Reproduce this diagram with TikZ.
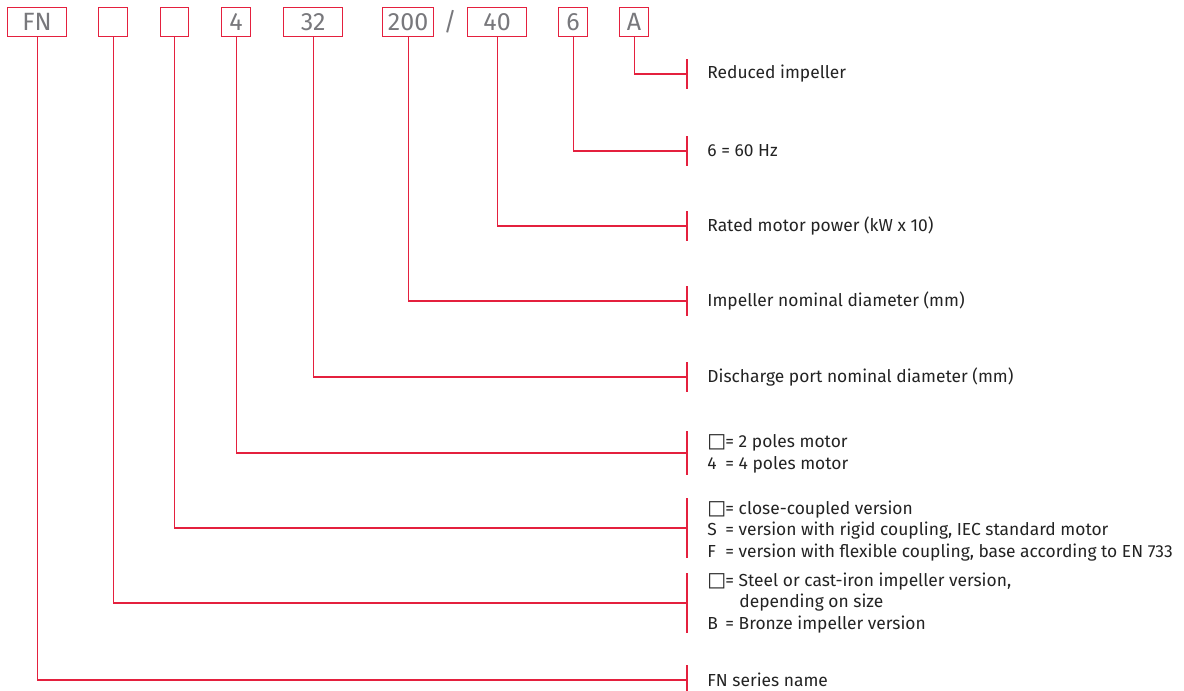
\documentclass[tikz,border=0pt]{standalone}
\usepackage{fontspec}
\setmainfont{Fira Sans}
\newfontfamily\symfont{DejaVu Sans}
\definecolor{codered}{RGB}{228,32,62}
\definecolor{codegray}{RGB}{120,120,124}
\definecolor{labelgray}{RGB}{35,35,35}
\newcommand{\sqbox}{{\symfont\fontsize{10}{10}\selectfont □}\hspace{1.2pt}}
\newcommand{\keyof}[1]{\makebox[9pt][l]{#1}}
\tikzset{
  codebox/.style={draw=codered, line width=0.6pt, minimum height=14.5pt, inner sep=0pt,
    text=codegray, font=\fontsize{12.5}{14}\selectfont, anchor=north west},
  conn/.style={draw=codered, line width=0.55pt},
  tick/.style={draw=codered, line width=0.6pt},
  label/.style={anchor=west, inner sep=0pt, text=labelgray, align=left,
    font=\fontsize{8.7}{10.75}\selectfont}
}
\begin{document}
\begin{tikzpicture}[x=0.5pt,y=-0.5pt]
\useasboundingbox (0,0) rectangle (1184,691);
% code boxes
\node[codebox, minimum width=29.5pt] (fn) at (7,7) {FN};
\node[codebox, minimum width=14.5pt] (b2) at (98,7) {};
\node[codebox, minimum width=14pt] (b3) at (160,7) {};
\node[codebox, minimum width=14.5pt] (b4) at (221,7) {4};
\node[codebox, minimum width=29.5pt] (b32) at (283,7) {32};
\node[codebox, minimum width=25.5pt] (b200) at (382,7) {200};
\node[anchor=center, inner sep=0pt, text=codegray, font=\fontsize{12.5}{14}\selectfont] (slash) at (450,22) {/};
\node[codebox, minimum width=29.5pt] (b40) at (467,7) {40};
\node[codebox, minimum width=14.5pt] (b6) at (558,7) {6};
\node[codebox, minimum width=14.5pt] (bA) at (619,7) {A};
% tick coordinates
\foreach \n/\y/\h in {tA/74/15, t6/151/15, t40/226/15, t200/301/15, t32/377/15, t4/453/22, t3/528/30, t2/603/30, tfn/680/15}{
  \coordinate (\n) at (687,\y);
  \draw[tick] (687,\y-\h) -- (687,\y+\h);
}
% connectors
\draw[conn] (bA.south) |- (tA);
\draw[conn] (b6.south) |- (t6);
\draw[conn] (b40.south) |- (t40);
\draw[conn] (b200.south) |- (t200);
\draw[conn] (b32.south) |- (t32);
\draw[conn] (b4.south) |- (t4);
\draw[conn] (b3.south) |- (t3);
\draw[conn] (b2.south) |- (t2);
\draw[conn] (fn.south) |- (tfn);
% labels
\node[label] (lA) at (707,74) {Reduced impeller};
\node[label] (l6) at (707,151) {6 = 60 Hz};
\node[label] (l40) at (707,226) {Rated motor power (kW x 10)};
\node[label] (l200) at (707,301) {Impeller nominal diameter (mm)};
\node[label] (l32) at (707,377) {Discharge port nominal diameter (mm)};
\node[label] (l4) at (707,454) {\keyof{\sqbox}= 2 poles motor\\\keyof{4}= 4 poles motor};
\node[label] (l3) at (707,531) {\keyof{\sqbox}= close-coupled version\\\keyof{S}= version with rigid coupling, IEC standard motor\\\keyof{F}= version with flexible coupling, base according to EN 733};
\node[label] (l2) at (707,603) {\keyof{\sqbox}= Steel or cast-iron impeller version,\\\keyof{}\hspace{7pt}depending on size\\\keyof{B}= Bronze impeller version};
\node[label] (lfn) at (707,680) {FN series name};
\end{tikzpicture}
\end{document}
